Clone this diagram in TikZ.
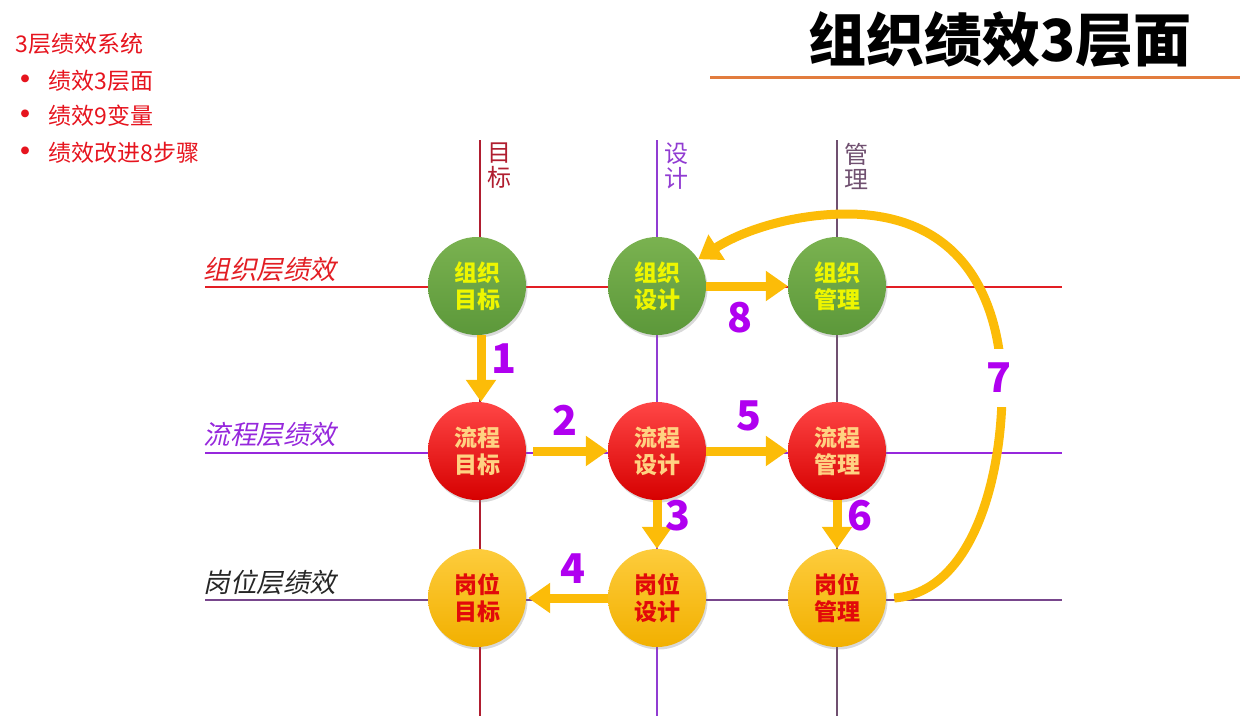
\documentclass[tikz,border=0pt]{standalone}
\usepackage{fontspec}
\setmainfont{Noto Sans CJK SC}
\newfontfamily\slantcjk{Noto Sans CJK SC}[FakeSlant=0.22]
\usetikzlibrary{arrows.meta,shadows}

\definecolor{flowyellow}{RGB}{252,188,8}
\definecolor{stepnum}{RGB}{176,0,240}
\definecolor{lineorg}{RGB}{226,30,36}
\definecolor{linepro}{RGB}{150,40,220}
\definecolor{linejob}{RGB}{120,70,140}
\definecolor{colgoal}{RGB}{176,30,48}
\definecolor{coldesign}{RGB}{145,60,210}
\definecolor{colmanage}{RGB}{112,80,112}
\definecolor{titleline}{RGB}{226,124,62}
\definecolor{notered}{RGB}{230,20,30}

\begin{document}
\begin{tikzpicture}[x=1pt,y=-1pt,
    ball/.style={circle,minimum size=98pt,inner sep=0pt,align=center,
      font=\fontsize{23}{27}\selectfont\bfseries,
      drop shadow={shadow xshift=1.5pt,shadow yshift=-2.5pt,opacity=0.3}},
    orgball/.style={ball,top color={rgb,255:red,122;green,178;blue,80},
      bottom color={rgb,255:red,92;green,152;blue,58},text={rgb,255:red,238;green,246;blue,0}},
    proball/.style={ball,top color={rgb,255:red,255;green,70;blue,70},
      bottom color={rgb,255:red,214;green,0;blue,0},text={rgb,255:red,255;green,210;blue,130}},
    jobball/.style={ball,top color={rgb,255:red,253;green,204;blue,60},
      bottom color={rgb,255:red,242;green,176;blue,0},text={rgb,255:red,226;green,10;blue,10}},
    flow/.style={draw=flowyellow,line width=9pt,-{Triangle[width=29pt,length=22pt]}},
    num/.style={text=stepnum,font=\fontsize{41}{41}\selectfont\bfseries},
    rowlabel/.style={anchor=west,font=\slantcjk\fontsize{26.5}{26.5}\selectfont},
    collabel/.style={anchor=west,align=center,font=\fontsize{24}{25}\selectfont},
    note/.style={anchor=base west,text=notered,font=\fontsize{23}{23}\selectfont}]
  \useasboundingbox (0,0) rectangle (1240,726);
  % Title
  \node[font=\fontsize{58}{58}\selectfont\bfseries] (title) at (1000,40) {组织绩效3层面};
  \draw[titleline,line width=3pt] (710,77) -- (1240,77);
  % Notes
  \node[note] (sys) at (12,52) {3层绩效系统};
  \foreach \y/\t [count=\i] in {89/绩效3层面,124/绩效9变量,161/绩效改进8步骤} {
    \node[note,font=\fontsize{28}{28}\selectfont\bfseries] (dot\i) at (8,\y) {•};
    \node[note] (item\i) at (45,\y) {\t};
  }
  % Grid
  \foreach \x/\c in {480/colgoal,657/coldesign,837/colmanage}
    \draw[\c,line width=1.3pt] (\x,140) -- (\x,716);
  \foreach \y/\c in {287/lineorg,453/linepro,600/linejob}
    \draw[\c,line width=1.3pt] (205,\y) -- (1062,\y);
  % Axis labels
  \node[collabel,text=colgoal] (cT) at (484,166) {目\\标};
  \node[collabel,text=coldesign] (cD) at (661,166) {设\\计};
  \node[collabel,text=colmanage] (cM) at (841,166) {管\\理};
  \node[rowlabel,text=lineorg] (rO) at (200,270) {组织层绩效};
  \node[rowlabel,text=linepro] (rP) at (200,435) {流程层绩效};
  \node[rowlabel,text=black!85] (rJ) at (200,582) {岗位层绩效};
  % Circles
  \node[orgball] (orgT) at (477,286) {组织\\目标};
  \node[orgball] (orgD) at (657,286) {组织\\设计};
  \node[orgball] (orgM) at (837,286) {组织\\管理};
  \node[proball] (proT) at (477,451) {流程\\目标};
  \node[proball] (proD) at (657,451) {流程\\设计};
  \node[proball] (proM) at (837,451) {流程\\管理};
  \node[jobball] (jobT) at (477,598) {岗位\\目标};
  \node[jobball] (jobD) at (657,598) {岗位\\设计};
  \node[jobball] (jobM) at (837,598) {岗位\\管理};
  % Steps
  \draw[flow] ([xshift=4pt]orgT.south) -- ([xshift=4pt]proT.north);
  \draw[flow,shorten <=7pt] (proT) -- (proD);
  \draw[flow] (proD) -- (jobD);
  \draw[flow,shorten >=2pt] (jobD) -- (jobT);
  \draw[flow] (proD) -- (proM);
  \draw[flow] (proM) -- (jobM);
  \draw[flow] ([xshift=8pt]jobM.east) .. controls (975,592) and (1004,470) .. (1002,380)
    .. controls (996,265) and (935,214) .. (847,214)
    .. controls (790,214) and (740,232) .. (orgD.33);
  \draw[flow] (orgD) -- (orgM);
  \node[num] (n1) at (504,359) {1};
  \node[num] (n2) at (565,420) {2};
  \node[num] (n3) at (678,516) {3};
  \node[num] (n4) at (573,569) {4};
  \node[num] (n5) at (749,416) {5};
  \node[num] (n6) at (860,516) {6};
  \node[num,fill=white,inner ysep=14pt] (n7) at (999,378) {7};
  \node[num] (n8) at (740,318) {8};
\end{tikzpicture}
\end{document}
